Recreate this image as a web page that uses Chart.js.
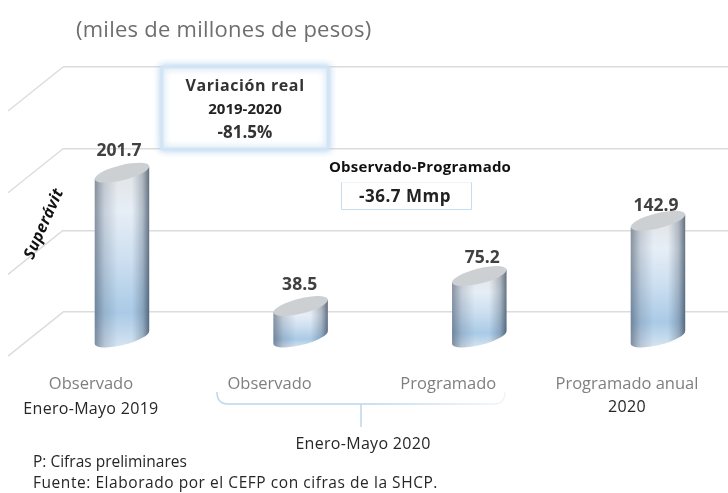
<!DOCTYPE html>
<html><head><meta charset="utf-8">
<style>html,body{margin:0;padding:0;background:#fff;overflow:hidden}canvas{display:block}</style>
<script src="https://cdn.jsdelivr.net/npm/chart.js@4"></script>
</head><body><canvas id="c" width="728" height="493"></canvas>
<script>
const categories = ["Observado", "Observado", "Programado", "Programado anual"];
const periods = ["Enero-Mayo 2019", "", "", "2020"];
const values = [201.7, 38.5, 75.2, 142.9];
const wallTicks = [31, 131, 231, 331];
const FONT = '"Open Sans", sans-serif';
const labelLift = [22, 21, 18, 15];
const labelShift = [-3, -1, 3, -2];

function txt(ctx, s, x, y, font, color, align, spacing) {
  ctx.save();
  ctx.font = font; ctx.fillStyle = color; ctx.textAlign = align || 'center'; ctx.textBaseline = 'middle';
  ctx.letterSpacing = (spacing || 0) + 'px';
  ctx.fillText(s, x, y);
  ctx.restore();
}
function ell(ctx, x, y, rx, ry, rot) { ctx.ellipse(x, y, rx, ry, rot, 0, Math.PI * 2); }

function cylinder(ctx, cx, top, base) {
  const rx = 28, ry = 7.5, th = -14 * Math.PI / 180;
  const hw = Math.sqrt(rx*rx*Math.cos(th)**2 + ry*ry*Math.sin(th)**2);
  const dy = (rx*rx - ry*ry) * Math.sin(-th) * Math.cos(th) / hw;
  ctx.save();
  ctx.beginPath();
  ctx.moveTo(cx - hw, top + dy); ctx.lineTo(cx + hw, top - dy);
  ctx.lineTo(cx + hw, base - dy); ctx.lineTo(cx - hw, base + dy); ctx.closePath();
  ell(ctx, cx, base, rx, ry, th);
  ctx.clip();
  const v = ctx.createLinearGradient(0, top, 0, base + 10);
  v.addColorStop(0, '#e2e4e7'); v.addColorStop(0.22, '#e6eef6'); v.addColorStop(0.5, '#cddff0');
  v.addColorStop(0.8, '#a9cae6'); v.addColorStop(1, '#d6e4f1');
  ctx.fillStyle = v;
  ctx.fillRect(cx - hw - 2, top - 12, hw * 2 + 4, base - top + 26);
  const h = ctx.createLinearGradient(cx - hw, 0, cx + hw, 0);
  h.addColorStop(0, 'rgba(70,85,105,.60)'); h.addColorStop(0.18, 'rgba(80,95,115,.22)');
  h.addColorStop(0.42, 'rgba(80,95,115,0)'); h.addColorStop(0.68, 'rgba(80,95,115,0)');
  h.addColorStop(0.88, 'rgba(60,80,100,.32)'); h.addColorStop(1, 'rgba(50,65,85,.72)');
  ctx.fillStyle = h;
  ctx.fillRect(cx - hw - 2, top - 12, hw * 2 + 4, base - top + 26);
  ctx.restore();
  ctx.beginPath(); ell(ctx, cx, top, rx, ry, th);
  ctx.fillStyle = '#cdd0d3'; ctx.fill();
}

const decor = {
  id: 'decor',
  beforeDatasetsDraw(chart) {
    const ctx = chart.ctx, y = chart.scales.y, a = chart.chartArea;
    ctx.save();
    ctx.strokeStyle = '#dcdcdc'; ctx.lineWidth = 1.5;
    wallTicks.forEach(t => {
      const p = y.getPixelForValue(t);
      ctx.beginPath(); ctx.moveTo(a.left, p); ctx.lineTo(a.left - 55, p + 44); ctx.stroke();
    });
    // variation box
    ctx.save();
    ctx.shadowColor = 'rgba(170,205,235,.9)'; ctx.shadowBlur = 7;
    ctx.fillStyle = '#fff'; ctx.strokeStyle = '#d3e4f4'; ctx.lineWidth = 3;
    ctx.fillRect(162, 67, 166, 82); ctx.strokeRect(162, 67, 166, 82);
    ctx.restore();
    txt(ctx, 'Variación real', 245, 86, '700 16px ' + FONT, '#333', 'center', 0.6);
    txt(ctx, '2019-2020', 245, 110, '700 15px ' + FONT, '#222');
    txt(ctx, '-81.5%', 245, 133, '700 17px ' + FONT, '#333');
    // observed-programmed box
    txt(ctx, 'Observado-Programado', 420, 168, '700 15px ' + FONT, '#111', 'center', 0.2);
    ctx.fillStyle = '#fff'; ctx.fillRect(341, 182, 130, 27);
    ctx.strokeStyle = '#c6dcf1'; ctx.lineWidth = 1;
    ctx.beginPath(); ctx.moveTo(341.5, 182); ctx.lineTo(341.5, 209.5); ctx.lineTo(471.5, 209.5); ctx.lineTo(471.5, 182); ctx.stroke();
    ctx.strokeStyle = '#eef4fa';
    ctx.beginPath(); ctx.moveTo(341.5, 182.5); ctx.lineTo(471.5, 182.5); ctx.stroke();
    txt(ctx, '-36.7 Mmp', 405, 197, '700 17px ' + FONT, '#222', 'center', 0.5);
    ctx.restore();
  },
  beforeDatasetDraw(chart, args) {
    const ctx = chart.ctx, meta = args.meta;
    meta.data.forEach((b, i) => {
      const p = b.getProps(['x', 'y'], true);
      txt(ctx, values[i].toFixed(1), p.x + labelShift[i], p.y - labelLift[i], '700 17.5px ' + FONT, '#404040');
    });
    meta.data.forEach(b => {
      const p = b.getProps(['x', 'y', 'base'], true);
      cylinder(ctx, p.x, p.y, p.base);
    });
    return false;
  },
  afterDraw(chart) {
    const ctx = chart.ctx;
    txt(ctx, '(miles de millones de pesos)', 76, 31, '400 22px ' + FONT, '#6e6e6e', 'left', 0.25);
    ctx.save();
    ctx.translate(44, 224); ctx.rotate(-66 * Math.PI / 180);
    txt(ctx, 'Superávit', 0, 0, 'italic 700 16px ' + FONT, '#111', 'center', 0.3);
    ctx.restore();
    const xs = chart.scales.x;
    periods.forEach((s, i) => {
      if (s) txt(ctx, s, xs.getPixelForValue(i) - 31, i === 0 ? 409 : 407, '400 16px ' + FONT, '#262626', 'center', 0.3);
    });
    // bracket
    const g = ctx.createLinearGradient(217, 0, 505, 0);
    g.addColorStop(0, '#bcd6ee'); g.addColorStop(0.55, '#bcd6ee'); g.addColorStop(1, '#eef5fb');
    ctx.save();
    ctx.strokeStyle = g; ctx.lineWidth = 1.5;
    ctx.beginPath();
    ctx.moveTo(217, 392); ctx.quadraticCurveTo(217, 404, 228, 404); ctx.lineTo(494, 404);
    ctx.quadraticCurveTo(505, 404, 505, 392); ctx.stroke();
    ctx.beginPath(); ctx.moveTo(361, 404); ctx.lineTo(361, 427); ctx.stroke();
    ctx.restore();
    txt(ctx, 'Enero-Mayo 2020', 363, 444, '400 16px ' + FONT, '#262626', 'center', 0.3);
    txt(ctx, 'P: Cifras preliminares', 33, 463, '400 15.5px ' + FONT, '#262626', 'left');
    txt(ctx, 'Fuente: Elaborado por el CEFP con cifras de la SHCP.', 33, 484, '400 15.5px ' + FONT, '#262626', 'left', 0.55);
  }
};

new Chart(document.getElementById('c'), {
  type: 'bar',
  data: { datasets: [{
    data: values.map((v, i) => ({ x: i, y: v })),
    backgroundColor: '#aecde7',
    barThickness: 55
  }] },
  options: {
    responsive: false, animation: false,
    layout: { padding: { left: 63, top: 67, right: 0, bottom: 0 } },
    plugins: { legend: { display: false }, tooltip: { enabled: false } },
    scales: {
      x: {
        type: 'linear', min: -0.33, max: 3.392, offset: false,
        grid: { display: false }, border: { display: false },
        afterBuildTicks: s => { s.ticks = categories.map((_, i) => ({ value: i })); },
        afterFit: s => { s.height = 155.5; s.paddingLeft = 0; s.paddingRight = 0; },
        ticks: {
          callback: v => categories[v], padding: 29, labelOffset: -31,
          autoSkip: false, maxRotation: 0, color: '#7f7f7f',
          font: { family: FONT, size: 16.5 }
        }
      },
      y: {
        min: 0, max: 331,
        afterBuildTicks: s => { s.ticks = wallTicks.map(value => ({ value })); },
        afterFit: s => { s.width = 0; },
        border: { display: false },
        grid: { color: '#dcdcdc', lineWidth: 1.5, drawTicks: false },
        ticks: { display: false }
      }
    }
  },
  plugins: [decor]
});
</script></body></html>
